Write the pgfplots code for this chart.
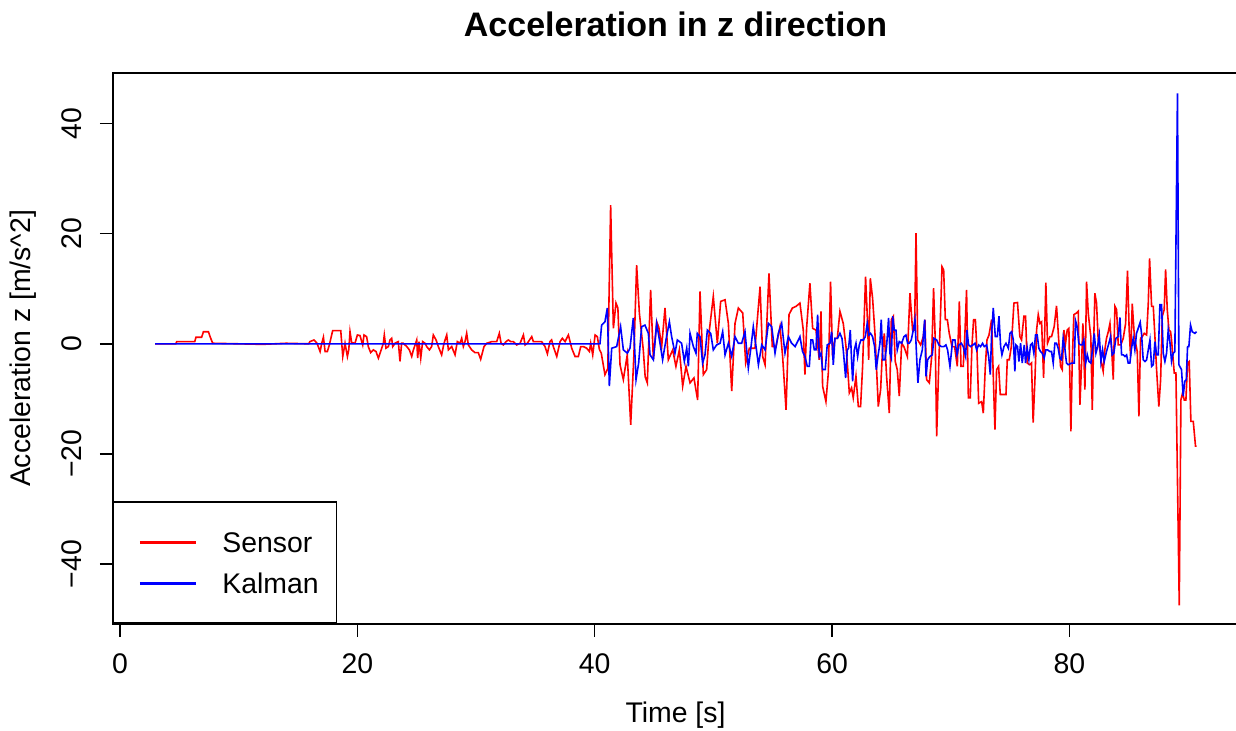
\documentclass[border=0pt]{standalone}
\usepackage{fontspec}
\setmainfont{Liberation Sans}
\usepackage{pgfplots}
\pgfplotsset{compat=1.18}
\pgfplotsset{myleg/.style={legend image code/.code={\draw[white,line width=0.1pt] (0pt,0pt) -- (4pt,0pt); \draw[##1,line width=1.5pt] (4pt,0pt) -- (32pt,0pt);}}}
\begin{document}
\begin{tikzpicture}
\useasboundingbox (-56.5pt,-53.5pt) rectangle (561.5pt,312pt);
\begin{axis}[
 at={(0pt,0pt)}, anchor=south west,
 scale only axis, width=562.5pt, height=275.5pt,
 xmin=-0.59, xmax=94.2, ymin=-50.9, ymax=49.2,
 axis line style={line width=0.75pt, black},
 tick style={line width=0.75pt, black},
 tick align=outside, major tick length=6.5pt,
 xtick={0,20,40,60,80}, xticklabels={0,20,40,60,80},
 ytick={-40,-20,0,20,40}, yticklabels={−40,−20,0,20,40},
 xtick pos=bottom, ytick pos=left,
 xticklabel style={inner sep=0pt, anchor=north, font=\fontsize{14.2}{17}\selectfont},
 yticklabel style={inner sep=0pt, rotate=90, anchor=south, font=\fontsize{14.2}{17}\selectfont},
 xticklabel shift=8pt, yticklabel shift=9pt,
 title={Acceleration in z direction},
 xlabel={Time [s]},
 ylabel={Acceleration z [m/s\textasciicircum 2]},
 every axis title/.style={at={(axis description cs:0.5,1.089)}, anchor=center, font=\fontsize{17}{20}\selectfont\bfseries},
 every axis x label/.style={at={(axis description cs:0.5,-0.165)}, anchor=center, font=\fontsize{14.2}{17}\selectfont},
 every axis y label/.style={at={(axis description cs:-0.0795,0.5)}, anchor=center, rotate=90, font=\fontsize{14.2}{17}\selectfont},
 legend style={at={(axis description cs:0,0)}, anchor=south west, draw=black, line width=0.75pt, fill=white,
   inner xsep=9pt, inner ysep=15pt, row sep=10.3pt, column sep=12.5pt,
   font=\fontsize{14.2}{17}\selectfont,
   nodes={inner sep=0pt, text height=10.2pt, text depth=0pt}},
 legend cell align=left,
]
\addplot[color=red, line width=0.8pt, myleg] coordinates {
(2.95,0) (4.7,0) (4.78,0.4) (6.3,0.4) (6.4,1.2) (6.88,1.2) (7.03,2.2) (7.45,2.2) (7.59,1.3) (7.81,0.1)
(10,0) (12,-0.1) (14,0.1) (15.9,0) (16.0,0.4) (16.35,0.7) (16.6,0.1) (16.86,-1.4) (17.0,0.1) (17.14,1.2)
(17.28,-1.4) (17.47,-1.4) (17.64,-0.2) (17.92,2.4) (18.6,2.4) (18.77,-2.3) (18.96,0.1) (19.16,-2.3) (19.28,-1.0)
(19.38,2.2) (19.52,0.2) (19.8,0.1) (20.0,1.6) (20.22,1.5) (20.45,-0.2) (20.56,1.6) (20.78,1.3) (20.92,-0.5)
(21.12,-1.6) (21.35,-1.1) (21.57,-1.4) (21.77,-2.6) (21.96,-1.4) (22.19,0.1) (22.27,1.6) (22.41,-0.8)
(22.61,-0.5) (22.75,0.7) (22.89,1.0) (22.98,-0.5) (23.17,0.1) (23.45,0.4) (23.59,-3.2) (23.73,0.1)
(23.87,0.1) (24.16,-0.5) (24.38,-1.1) (24.58,-2.3) (24.72,-1.1) (25.0,0.7) (25.08,-2.6) (25.19,0.4)
(25.34,-2.6) (25.5,0.4) (25.7,0.1) (25.84,-0.5) (26.07,-1.1) (26.26,-0.5) (26.4,1.6) (26.63,0.7)
(26.82,-0.5) (27.1,-2.0) (27.3,0.1) (27.53,1.6) (27.67,-1.1) (27.95,-0.5) (28.23,-2.0) (28.42,0.4)
(28.65,0.1) (28.79,1.0) (28.93,-0.5) (29.07,0.4) (29.21,1.9) (29.35,-0.2) (29.63,-1.1) (29.91,-1.6)
(30.19,-1.6) (30.39,-2.8) (30.67,-0.5) (30.9,0.1) (31.32,0.4) (31.74,0.4) (31.96,1.9) (32.11,0.1)
(32.3,-0.2) (32.53,0.4) (32.72,0.7) (32.92,0.4) (33.14,0.4) (33.42,-0.2) (33.71,0.1) (33.99,1.6)
(34.13,-0.2) (34.32,0.1) (34.69,1.3) (34.83,0.4) (35.11,0.4) (35.53,0.4) (35.81,-0.5) (36.01,-1.8)
(36.23,0.4) (36.37,0.7) (36.51,-0.5) (36.8,-2.3) (37.08,0.4) (37.27,1.0) (37.5,0.4) (37.78,1.6)
(38.06,-0.8) (38.34,-2.3) (38.62,-2.3) (38.82,-0.5) (39.04,-0.5) (39.32,-0.8) (39.55,-1.4) (39.66,0.1)
(39.83,-2.0) (40.03,1.6) (40.22,1.3) (40.39,-1.0)
(40.55,-1.7) (40.86,-5.6) (41.10,-4.5) (41.34,25.2) (41.57,2.8) (41.79,7.4) (41.95,6.5) (42.13,-3.8)
(42.41,-6.5) (42.74,-2.0) (43.03,-14.7) (43.30,-2.0) (43.53,14.3) (43.76,5.6) (44.09,-1.1) (44.25,-6.0)
(44.43,-7.1) (44.71,9.8) (44.94,-2.9) (45.22,4.0) (45.40,3.0) (45.64,-0.5) (45.92,6.5) (46.20,-2.9)
(46.57,-1.1) (46.84,-4.1) (47.13,-1.1) (47.41,-7.7) (47.69,-4.1) (48.03,-7.1) (48.36,-6.2) (48.67,-10.2)
(48.87,9.5) (49.15,-5.6) (49.43,-4.7) (49.66,2.5) (49.99,8.6) (50.33,0.1) (50.61,7.7) (50.98,8.0)
(51.26,3.7) (51.54,-8.6) (51.82,3.7) (52.10,6.5) (52.47,5.6) (52.72,-3.5) (53.03,-0.8) (53.50,-0.8)
(53.93,10.4) (54.15,-2.3) (54.35,-3.8) (54.68,12.8) (54.96,-0.5) (55.27,-0.5) (55.61,3.1) (55.83,-2.3)
(56.12,-12.0) (56.37,5.3) (56.65,6.5) (56.96,6.8)
(57.29,7.4) (57.57,2.5) (57.71,-5.6) (57.85,2.8) (58.13,11.0) (58.36,2.8) (58.64,2.5) (58.92,-2.9)
(59.06,5.9) (59.2,-7.7) (59.48,-10.5) (59.68,-5.3) (59.87,11.3) (60.04,-2.3) (60.24,1.0) (60.44,1.0)
(60.66,5.9) (60.94,3.7) (61.17,-0.5) (61.31,-4.4) (61.45,-8.9) (61.64,-8.0) (61.78,-9.8) (62.01,-5.9)
(62.21,-11.4) (62.4,-11.4) (62.57,-4.1) (62.82,12.2) (62.99,3.7) (63.08,-2.9) (63.22,11.9) (63.41,8.3)
(63.61,1.9) (63.75,-4.7) (63.89,-11.4) (64.09,-8.3) (64.23,-1.7) (64.4,1.9) (64.59,-5.9) (64.82,-12.6)
(64.99,4.4) (65.16,5.0) (65.32,-3.2) (65.49,-4.7) (65.66,-9.5) (65.86,0.1) (66.05,-0.5) (66.34,-2.3)
(66.56,9.2) (66.78,2.5) (66.95,2.5) (67.07,20.1) (67.21,0.7) (67.46,-0.2) (67.68,1.3) (67.82,4.4)
(67.96,-6.5) (68.19,-7.1) (68.39,-2.3) (68.55,10.1) (68.69,0.7) (68.81,-16.8) (68.98,-4.1) (69.12,4.4)
(69.26,14.0) (69.4,13.4) (69.54,4.4) (69.71,4.4) (69.87,1.9) (70.1,-0.5) (70.32,-0.5) (70.55,-4.1)
(70.72,7.7) (70.86,-4.1) (71.05,-4.1) (71.19,1.9) (71.33,9.8) (71.48,-9.8) (71.64,-9.8) (71.78,-0.5)
(71.92,4.4) (72.07,4.4) (72.21,-1.4) (72.35,-10.8) (72.6,-10.5) (72.74,-12.6) (72.91,-4.1) (73.05,0.7)
(73.22,1.6) (73.44,4.4) (73.58,-5.9) (73.72,-15.6) (73.86,-4.7) (74.03,-4.1) (74.17,-9.2) (74.42,-9.2)
(74.65,-9.2) (74.76,-2.9) (74.93,-2.9) (75.1,-0.5) (75.32,7.4)
(75.62,7.5) (75.82,1.3) (75.96,0.7) (76.16,5.0) (76.30,5.0) (76.44,-3.5) (76.66,-3.8) (76.80,-3.5)
(76.94,-14.3) (77.09,-6.5) (77.23,2.5) (77.37,5.3) (77.51,3.7) (77.65,4.0) (77.82,-6.2) (78.01,11.1)
(78.15,0.1) (78.35,1.3) (78.49,1.3) (78.71,3.1) (78.91,6.9) (79.11,0.1) (79.25,-4.1) (79.39,-4.7)
(79.53,2.5) (79.67,0.1) (79.81,2.5) (79.95,2.8) (80.12,-15.9) (80.23,-3.5) (80.37,5.3) (80.60,5.6)
(80.74,5.9) (80.88,-11.1) (81.02,-3.5) (81.13,3.7) (81.30,-8.3) (81.44,11.3) (81.58,5.6) (81.72,2.8)
(81.80,1.3) (81.92,-12.0) (82.03,-0.5) (82.14,9.2) (82.28,7.4) (82.42,0.7) (82.56,-1.1) (82.70,-3.5)
(82.84,-5.0) (82.98,-1.1) (83.12,1.0) (83.27,2.2) (83.41,3.7) (83.55,-0.8) (83.69,-6.5) (83.83,6.8)
(83.97,6.2) (84.11,-0.2) (84.33,-0.2) (84.53,1.0) (84.73,3.7) (84.89,13.3) (85.03,2.5) (85.15,-2.3)
(85.29,7.3) (85.43,2.5) (85.57,0.1) (85.71,-1.4) (85.85,-13.2) (85.99,1.0) (86.13,1.3) (86.30,1.9)
(86.50,1.6) (86.64,7.4) (86.75,15.5) (86.92,6.8) (87.06,6.8) (87.20,1.3) (87.34,-4.7) (87.53,-11.4)
(87.68,-6.5) (87.82,5.0) (87.98,6.2) (88.10,13.5) (88.24,6.2) (88.38,2.5) (88.52,2.2) (88.60,0.7)
(88.83,-5.3) (88.97,-5.3) (89.25,-47.5) (89.39,-10.2) (89.53,-8.9) (89.67,-10.2) (89.81,-10.2)
(89.95,-3.5) (90.09,-3.2) (90.23,-14.1) (90.43,-14.1) (90.62,-18.6) (90.71,-18.6)
};
\addlegendentry{Sensor}
\addplot[color=blue, line width=0.8pt, myleg] coordinates {
(2.95,0) (40.44,0)
(40.58,3.4) (40.86,4.0) (41.06,6.5) (41.23,-7.7) (41.43,-0.8) (41.85,-0.5) (42.18,3.1) (42.41,-1.1)
(42.75,-1.7) (42.97,-0.8) (43.25,4.7) (43.48,-6.5) (43.70,-3.5) (43.95,3.1) (44.23,3.4) (44.52,1.9)
(44.66,-2.0) (44.94,-2.9) (45.22,3.7) (45.50,0.1) (45.72,-2.9) (46.00,0.7) (46.29,4.0) (46.48,1.3)
(46.76,-1.7) (46.96,0.7) (47.32,0.1) (47.55,-3.2) (47.75,-0.8) (47.89,-4.1) (48.03,1.9) (48.31,-0.5)
(48.53,-1.7) (48.64,1.9) (48.87,1.3) (49.09,-3.5) (49.29,-2.0) (49.49,2.5) (49.77,1.9) (49.99,-1.1)
(50.27,-0.2) (50.56,0.1) (50.78,2.2) (50.98,-2.0) (51.26,0.1) (51.54,-2.3) (51.82,1.3) (52.10,0.1)
(52.38,0.1) (52.66,2.2) (52.94,-4.4) (53.17,-0.5) (53.36,3.1) (53.59,-0.5) (53.79,-3.8) (54.07,-0.2)
(54.35,-1.1) (54.63,3.7) (54.91,3.1) (55.19,-1.7) (55.47,1.9) (55.75,3.7) (56.03,-1.7) (56.31,1.3)
(56.59,0.1) (56.88,-0.5) (57.16,0.7)
(57.29,1.3) (57.51,-1.4) (57.71,-2.3) (57.91,-4.1) (58.08,-4.1) (58.22,0.7) (58.36,0.7) (58.50,-1.1)
(58.64,-1.1) (58.78,5.3) (58.92,-2.3) (59.06,-1.7) (59.20,-4.7) (59.42,-4.7) (59.59,-0.2) (59.82,0.1)
(59.96,2.2) (60.10,-3.8) (60.24,1.0) (60.46,1.0) (60.66,1.9) (60.83,1.0) (60.94,-1.1) (61.14,-6.2)
(61.28,-1.1) (61.39,-0.8) (61.53,2.5) (61.64,-2.9) (61.73,-6.8) (61.87,-1.1) (62.01,0.1) (62.15,-2.3)
(62.29,-0.2) (62.43,0.7) (62.63,0.7) (62.80,1.3) (62.96,3.7) (63.10,1.6) (63.24,1.9) (63.41,1.3)
(63.58,-0.5) (63.72,-4.7) (63.86,-2.3) (64.03,0.1) (64.14,4.4) (64.28,-2.9) (64.45,-2.9) (64.59,-0.5)
(64.76,4.7) (64.87,-1.7) (64.99,-2.6) (65.10,5.0) (65.24,2.5) (65.38,2.5) (65.49,-1.1) (65.66,0.4)
(65.86,0.1) (66.05,1.3) (66.22,1.6) (66.36,0.1) (66.50,0.1) (66.67,0.7) (66.84,2.5) (66.98,4.4)
(67.12,-2.3) (67.23,-7.1) (67.40,-2.9) (67.60,-1.1) (67.80,4.4) (67.91,-5.9) (68.05,-2.9) (68.24,-2.3)
(68.44,-2.0) (68.58,1.0) (68.81,0.7) (69.00,-0.2) (69.20,-0.5) (69.42,-0.5) (69.59,-0.2) (69.73,-1.1)
(69.93,-4.1) (70.16,0.7) (70.35,0.7) (70.52,-2.0) (70.69,-0.2) (70.89,0.1) (71.05,-0.5) (71.25,-2.3)
(71.36,2.5) (71.50,-0.2) (71.67,-0.5) (71.87,-0.2) (72.04,0.1) (72.18,-1.1) (72.35,-0.2) (72.51,-0.5)
(72.68,0.1) (72.82,-0.5) (73.02,-0.2) (73.19,-2.3) (73.33,-5.6) (73.44,1.9) (73.58,6.5) (73.75,1.3)
(73.92,1.3) (74.06,5.0) (74.20,-0.5) (74.31,-2.0) (74.48,-0.5) (74.65,0.1) (74.85,-0.8) (74.99,1.9)
(75.13,2.2) (75.27,0.7)
(75.40,-5.0) (75.48,-0.2) (75.62,-0.5) (75.74,-3.2) (75.88,0.1) (76.02,-3.5) (76.19,-0.2) (76.30,-3.5)
(76.44,-0.8) (76.58,-2.9) (76.72,-0.2) (76.86,0.1) (77.00,-1.7) (77.14,1.6) (77.28,1.6) (77.42,-0.8)
(77.56,-1.4) (77.70,-1.7) (77.87,-2.6) (78.01,-1.1) (78.15,-1.1) (78.35,-1.4) (78.49,-1.4) (78.63,-3.5)
(78.77,0.1) (78.91,0.1) (79.05,-0.8) (79.19,-2.6) (79.33,-2.9) (79.47,1.0) (79.61,-0.8) (79.75,-3.5)
(79.89,-3.8) (80.18,-3.5) (80.40,-3.5) (80.51,4.2) (80.65,3.1) (80.79,0.1) (80.93,-0.2) (81.07,-0.2)
(81.21,0.7) (81.36,-3.5) (81.50,-2.0) (81.64,-3.2) (81.80,-3.5) (81.94,-1.1) (82.09,1.9) (82.23,-1.7)
(82.37,-0.5) (82.51,1.6) (82.65,-3.2) (82.79,-1.1) (82.93,-3.2) (83.12,-1.4) (83.32,0.1) (83.46,1.3)
(83.60,-2.0) (83.74,-1.7) (83.91,1.0) (84.11,1.3) (84.25,4.8) (84.39,-2.0) (84.53,-2.0) (84.67,-2.3)
(84.81,-2.0) (84.95,-3.5) (85.09,-3.5) (85.23,-0.8) (85.37,1.0) (85.51,-1.1) (85.65,1.9) (85.79,2.8)
(85.96,3.9) (86.07,1.9) (86.21,-2.9) (86.36,-3.2) (86.50,-2.9) (86.64,-1.1) (86.78,0.7) (86.92,-4.1)
(87.06,-3.8) (87.20,0.4) (87.34,-2.0) (87.48,-2.0) (87.62,7.1) (87.76,7.1) (87.90,-1.7) (88.04,-3.2)
(88.18,-1.7) (88.32,2.5) (88.46,0.4) (88.60,-3.2) (88.74,-1.7) (88.88,-1.4) (89.10,45.5) (89.22,-3.8)
(89.44,-4.7) (89.58,-9.5) (89.72,-6.8) (89.84,-6.5) (89.95,-0.5) (90.06,-0.5) (90.20,3.4) (90.34,2.2)
(90.57,1.9) (90.71,2.2)
};
\addlegendentry{Kalman}
\end{axis}
\end{tikzpicture}
\end{document}
